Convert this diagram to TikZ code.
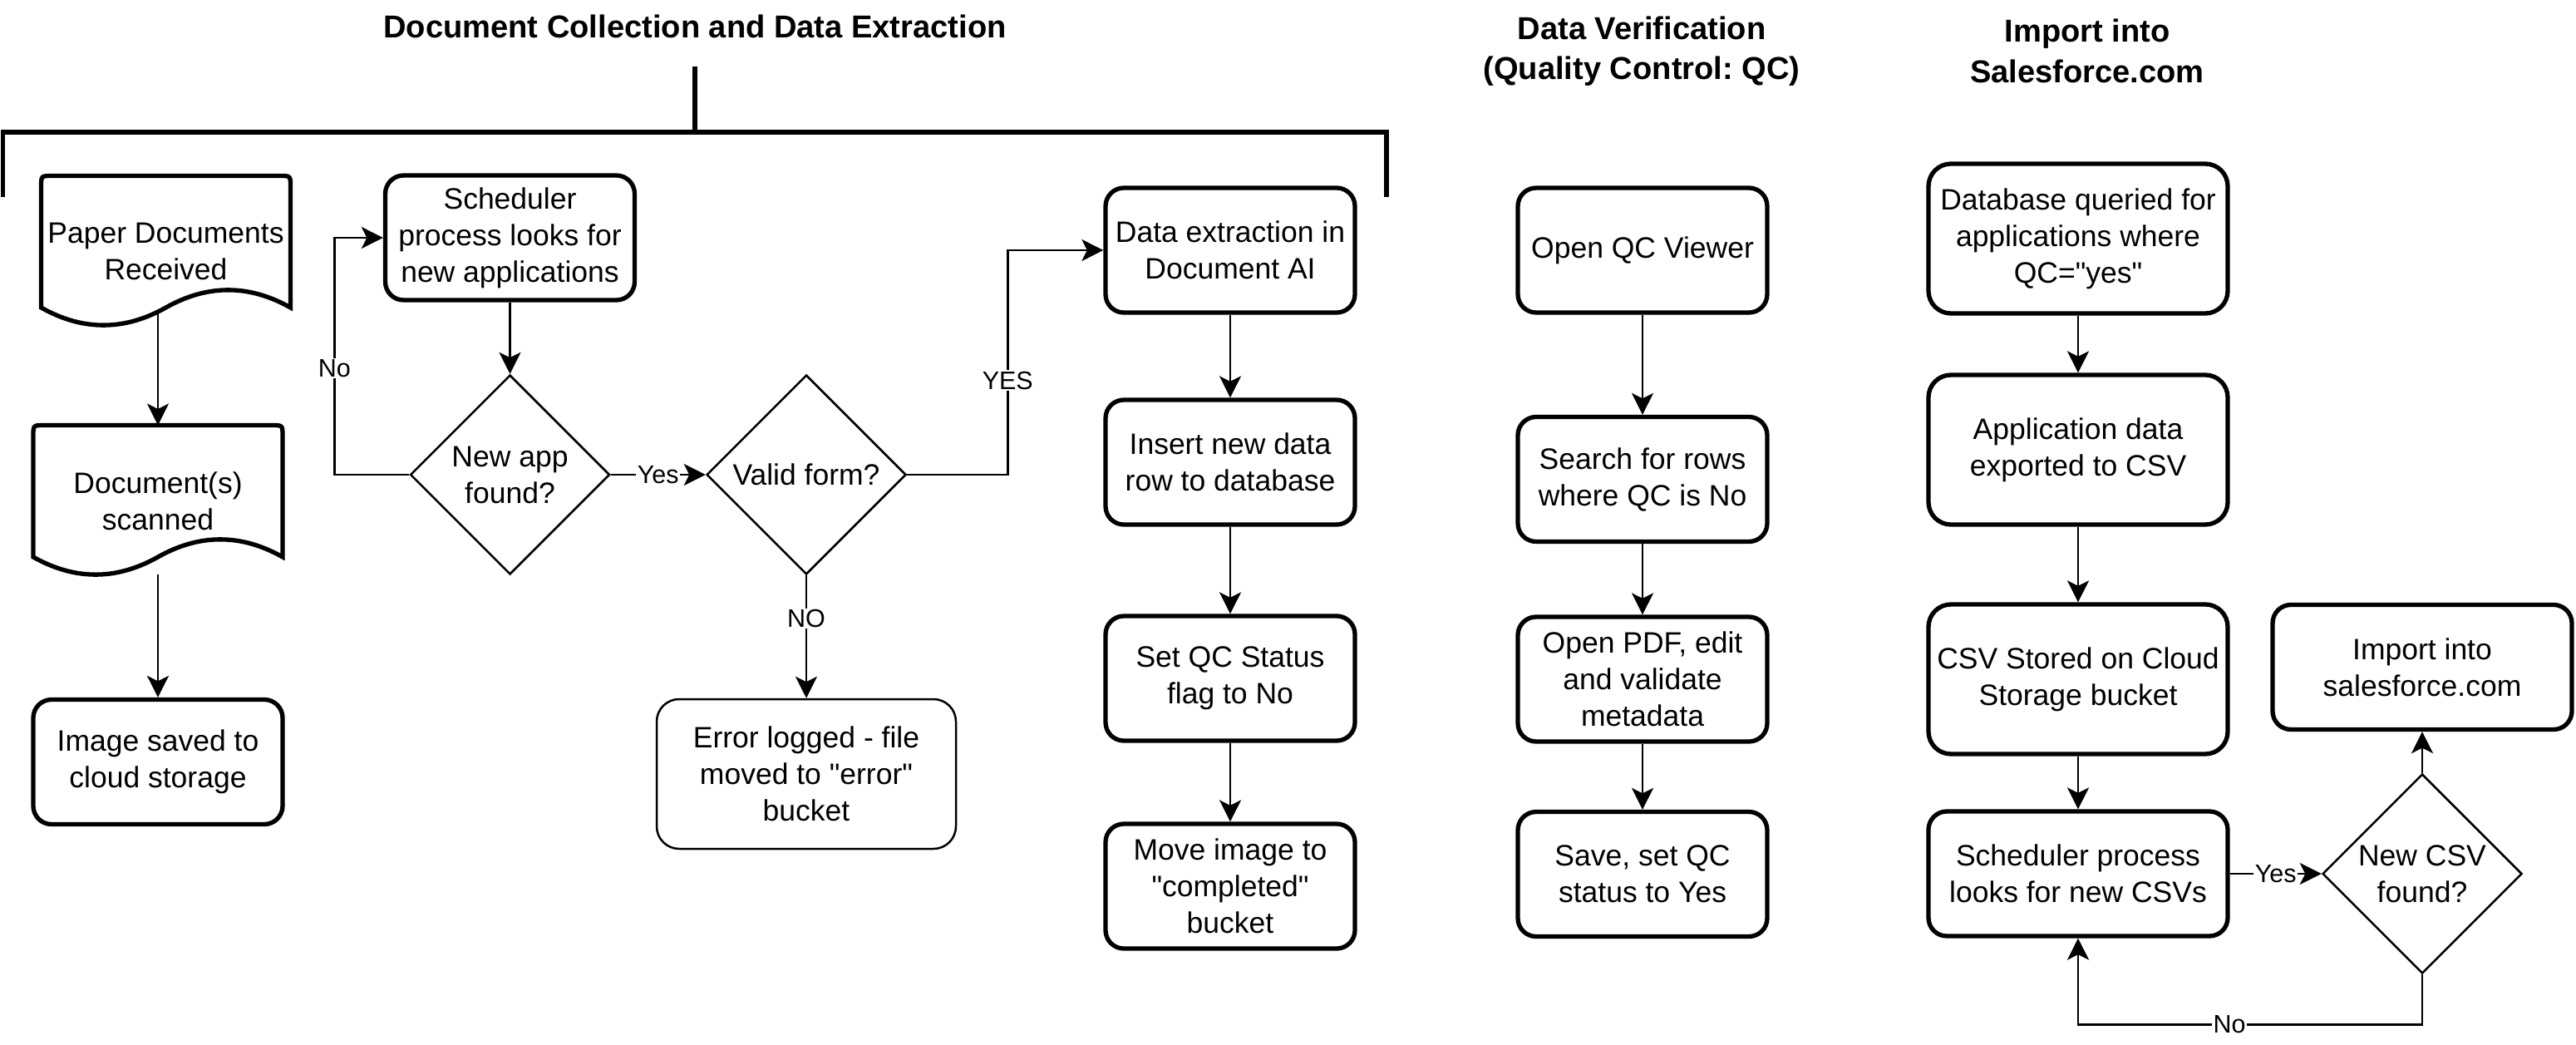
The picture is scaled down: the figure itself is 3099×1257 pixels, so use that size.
\documentclass[tikz,border=0pt]{standalone}
\usepackage{fontspec}
\setmainfont{Liberation Sans}[Ligatures=TeXOff]
\usetikzlibrary{arrows.meta,shapes.geometric,calc}
\newcommand\bodyf{\fontsize{35.5}{44}\selectfont}
\newcommand\lblf{\fontsize{30.5}{36}\selectfont}
\newcommand\ttlf{\bfseries\fontsize{38.1}{48.5}\selectfont}
\newcommand\dq{\char34\relax}
\newcommand\docoutline[1]{%
  \draw[docline] ($(#1.north west)+(0,158.5)$) -- ($(#1.north west)+(0,13)$)
    .. controls (#1.north west) .. ($(#1.north west)+(13,0)$)
    -- ($(#1.north east)+(-13,0)$)
    .. controls (#1.north east) .. ($(#1.north east)+(0,13)$)
    -- ($(#1.north east)+(0,158.5)$)
    .. controls ($(#1.north east)+(-50,130.3)$) and ($(#1.north east)+(-100,130.3)$) .. ($(#1.north)+(0,158.5)$)
    .. controls ($(#1.north)+(-50,186.7)$) and ($(#1.north)+(-100,186.7)$) .. ($(#1.north west)+(0,158.5)$)
    -- cycle;}
\frenchspacing
\begin{document}
\begin{tikzpicture}[x=1pt,y=-1pt,
  box/.style={draw, line width=5.3pt, rounded corners=22pt, minimum width=300pt, minimum height=150pt, align=center, inner sep=0pt, font=\bodyf},
  bigbox/.style={box, minimum width=360pt, minimum height=180pt, rounded corners=27pt},
  widebox/.style={box, minimum width=360pt, minimum height=150pt},
  errbox/.style={bigbox, line width=2.5pt},
  docnode/.style={minimum width=300pt, minimum height=182pt, inner sep=0pt, outer sep=0pt, align=center, font=\bodyf},
  docline/.style={line width=5.3pt},
  dec/.style={draw, diamond, aspect=1, line width=2.5pt, minimum width=240pt, minimum height=240pt, inner sep=0pt, align=center, font=\bodyf},
  conn/.style={line width=2.8pt, -{Stealth[length=26pt,width=26pt,inset=6.5pt]}},
  lbl/.style={fill=white, font=\lblf, inner sep=1.5pt},
  ttl/.style={font=\ttlf, align=center},
  brk/.style={line width=5.5pt}
]
\fill[white] (0,0) rectangle (3099,1257);
\useasboundingbox (0,0) rectangle (3099,1257);

% titles
\node[ttl] (t1) at (836,32) {Document Collection and Data Extraction};
\node[ttl] (t2) at (1975,61.5) {Data Verification\\(Quality Control: QC)};
\node[ttl] (t3) at (2511,61.5) {Import into\\Salesforce.com};

% bracket
\draw[brk] (3.5,237) -- (3.5,159) -- (1668,159) -- (1668,237);
\draw[brk] (836,80) -- (836,159);

% column 1
\node[docnode] (pd) at (199.5,302.5) {Paper Documents\\Received};
\docoutline{pd}
\node[docnode] (ds) at (190,602.5) {Document(s)\\scanned};
\docoutline{ds}
\node[box] (img) at (190,916.5) {Image saved to\\cloud storage};
\coordinate (pdb) at (190,377);
\coordinate (dsb) at (190,691);
\draw[conn] (pdb) -- (ds.north);
\draw[conn] (dsb) -- (img.north);

% scheduler / decisions
\node[box] (sch) at (613.5,286) {Scheduler\\process looks for\\new applications};
\node[dec] (nap) at (613.5,571) {New app\\found?};
\node[dec] (vf) at (970,571) {Valid form?};
\node[errbox] (err) at (970,931) {Error logged - file\\moved to \dq error\dq\\bucket};

\draw[conn] (sch.south) -- (nap.north);
\draw[conn] (nap.west) -- ++(-90,0) |- node[lbl, pos=0.225] {No} (sch.west);
\draw[conn] (nap.east) -- node[lbl] {Yes} (vf.west);
\draw[conn] (vf.south) -- node[lbl, pos=0.35] {NO} (err.north);

% data extraction column
\node[box] (de) at (1480,301) {Data extraction in\\Document AI};
\node[box] (ins) at (1480,556) {Insert new data\\row to database};
\node[box] (sqc) at (1480,816) {Set QC Status\\flag to No};
\node[box] (mv) at (1480,1066) {Move image to\\\dq completed\dq\\bucket};
\draw[conn] (vf.east) -- ++(121,0) |- node[lbl, pos=0.21] {YES} (de.west);
\draw[conn] (de.south) -- (ins.north);
\draw[conn] (ins.south) -- (sqc.north);
\draw[conn] (sqc.south) -- (mv.north);

% QC column
\node[box] (oqc) at (1976,301) {Open QC Viewer};
\node[box] (srch) at (1976,576.5) {Search for rows\\where QC is No};
\node[box] (opdf) at (1976,817) {Open PDF, edit\\and validate\\metadata};
\node[box] (save) at (1976,1051.5) {Save, set QC\\status to Yes};
\draw[conn] (oqc.south) -- (srch.north);
\draw[conn] (srch.south) -- (opdf.north);
\draw[conn] (opdf.south) -- (save.north);

% Salesforce column
\node[bigbox] (dbq) at (2500,287) {Database queried for\\applications where\\QC=\dq yes\dq};
\node[bigbox] (apd) at (2500,541) {Application data\\exported to CSV};
\node[bigbox] (csv) at (2500,817) {CSV Stored on Cloud\\Storage bucket};
\node[widebox] (schc) at (2500,1051) {Scheduler process\\looks for new CSVs};
\node[widebox] (imp) at (2914,802.5) {Import into\\salesforce.com};
\node[dec] (ncsv) at (2914,1051) {New CSV\\found?};
\draw[conn] (dbq.south) -- (apd.north);
\draw[conn] (apd.south) -- (csv.north);
\draw[conn] (csv.south) -- (schc.north);
\draw[conn] (schc.east) -- node[lbl] {Yes} (ncsv.west);
\draw[conn] (ncsv.north) -- (imp.south);
\draw[conn] (ncsv.south) -- ++(0,60) -| node[lbl, pos=0.28] {No} (schc.south);
\end{tikzpicture}
\end{document}
